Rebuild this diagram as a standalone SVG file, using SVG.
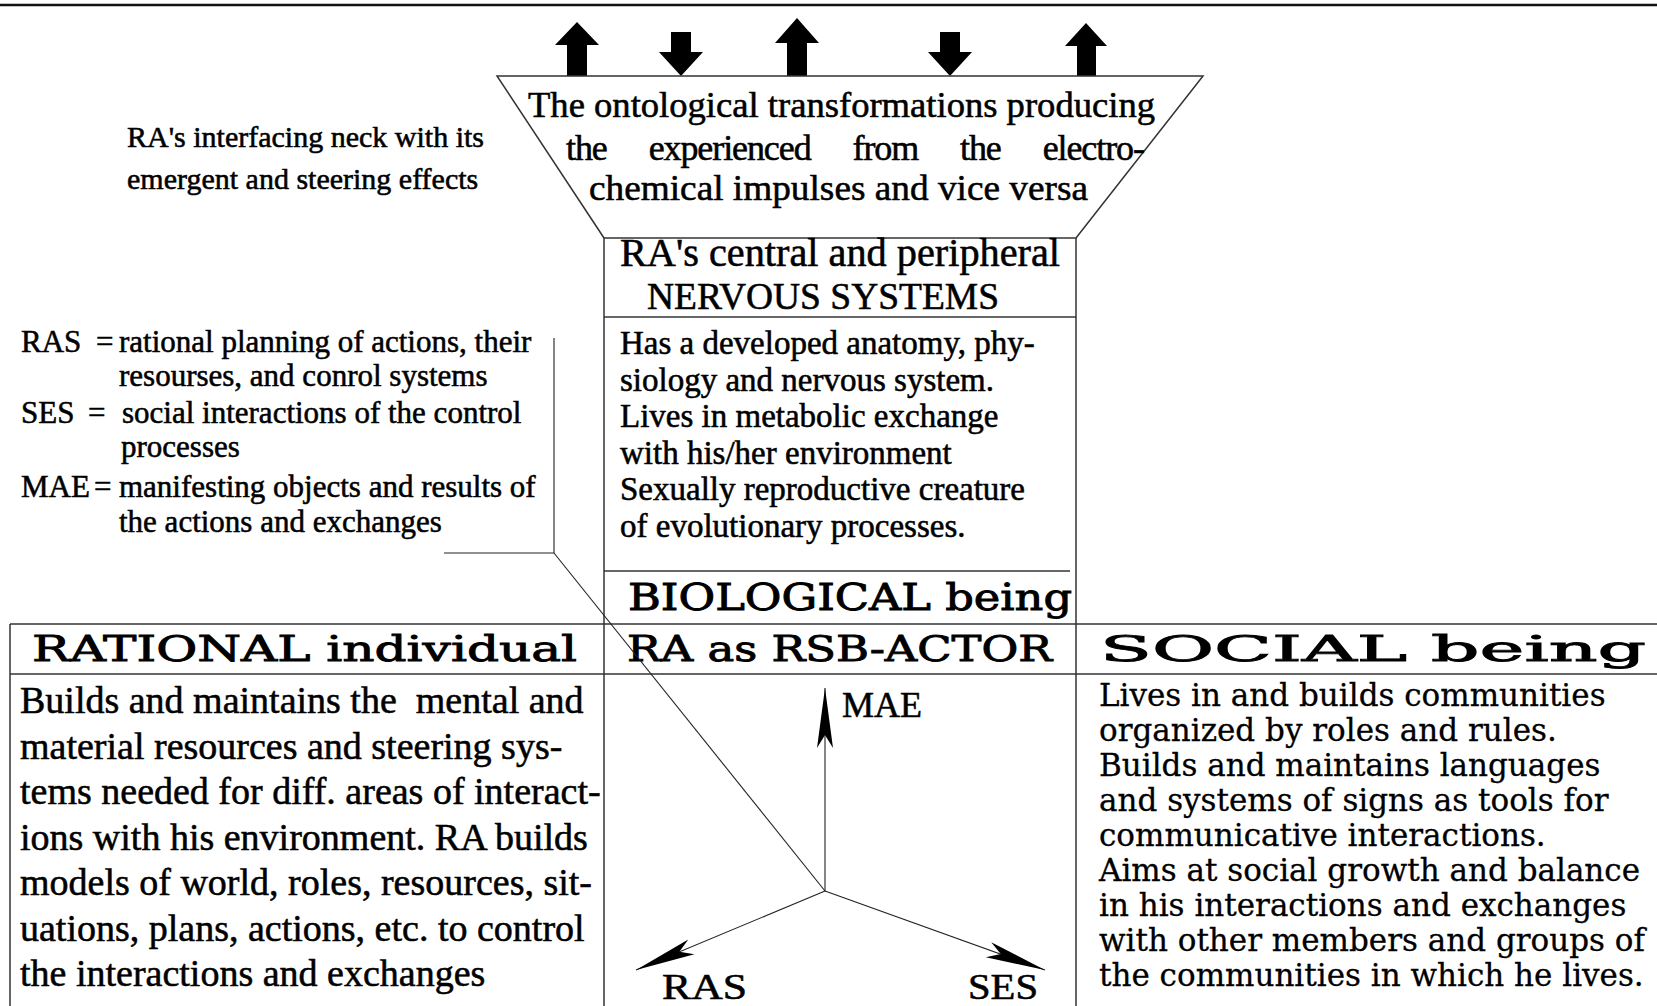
<svg xmlns="http://www.w3.org/2000/svg" width="1657" height="1006" viewBox="0 0 1657 1006">
<style>
  .ln { stroke:#333; stroke-width:1.5; fill:none; }
  .thin { stroke:#222; stroke-width:1.1; fill:none; }
  .tm { font-family:"Liberation Serif","Times New Roman",serif; fill:#000; stroke:#000; stroke-width:0.55; }
  .wd { font-family:"DejaVu Serif","Liberation Serif",serif; fill:#000; stroke:#000; stroke-width:0.3; }
  .hd { font-family:"DejaVu Serif","Liberation Serif",serif; fill:#000; stroke:#000; stroke-width:0.9; }
  .blk { fill:#000; }
</style>
<defs>
  <marker id="dart" viewBox="-62 -11 64 22" refX="0" refY="0" markerWidth="64" markerHeight="22" markerUnits="userSpaceOnUse" orient="auto">
    <path d="M0,0 L-60,-8 L-47,0 L-60,8 Z" fill="#000"/>
  </marker>
</defs>
<rect width="1657" height="1006" fill="#fff"/>
<line x1="0" y1="5" x2="1657" y2="5" stroke="#111" stroke-width="2.5"/>

<g id="impulse-arrows" class="blk">
  <polygon points="567,76 567,45 555,45 577,22 599,45 587,45 587,76"/>
  <polygon points="671,32 691,32 691,52 703,52 681,76 659,52 671,52"/>
  <polygon points="787,76 787,43 775,43 797,18 819,43 807,43 807,76"/>
  <polygon points="940,32 960,32 960,52 972,52 950,76 928,52 940,52"/>
  <polygon points="1077,76 1077,46 1065,46 1086,23 1107,46 1096,46 1096,76"/>
</g>

<g id="funnel">
  <polyline class="ln" points="604,238 497,76 1203,76 1076,238"/>
  <text class="tm" font-size="36" x="528" y="117" textLength="627" lengthAdjust="spacingAndGlyphs">The ontological transformations producing</text>
  <text class="tm" font-size="36" x="566" y="160" textLength="579" lengthAdjust="spacing" word-spacing="34">the experienced from the electro-</text>
  <text class="tm" font-size="36" x="589" y="200" textLength="499" lengthAdjust="spacingAndGlyphs">chemical impulses and vice versa</text>
</g>

<g id="interfacing-note">
  <text class="tm" font-size="30" x="127" y="147">RA's interfacing neck with its</text>
  <text class="tm" font-size="30" x="127" y="189">emergent and steering effects</text>
</g>

<g id="legend" class="tm" font-size="31">
  <text y="352"><tspan x="21">RAS</tspan><tspan x="96">=</tspan><tspan x="119">rational planning of actions, their</tspan></text>
  <text x="119" y="386">resourses, and conrol systems</text>
  <text y="423"><tspan x="21">SES</tspan><tspan x="88">=</tspan><tspan x="122">social interactions of the control</tspan></text>
  <text x="121" y="457">processes</text>
  <text y="497"><tspan x="21">MAE</tspan><tspan x="94">=</tspan><tspan x="119">manifesting objects and results of</tspan></text>
  <text x="119" y="532">the actions and exchanges</text>
</g>

<g id="bio-box">
  <line class="ln" x1="604" y1="238" x2="1076" y2="238"/>
  <line class="ln" x1="604" y1="238" x2="604" y2="1006"/>
  <line class="ln" x1="1076" y1="238" x2="1076" y2="1006"/>
  <line class="ln" x1="604" y1="317" x2="1076" y2="317"/>
  <line class="ln" x1="604" y1="571" x2="1070" y2="571"/>
  <text class="tm" font-size="39" x="620" y="266" textLength="440" lengthAdjust="spacingAndGlyphs">RA's central and peripheral</text>
  <text class="tm" font-size="38" x="647" y="309" textLength="352" lengthAdjust="spacingAndGlyphs">NERVOUS SYSTEMS</text>
  <g class="tm" font-size="33">
    <text x="620" y="354">Has a developed anatomy, phy-</text>
    <text x="620" y="390.5">siology and nervous system.</text>
    <text x="620" y="427">Lives in metabolic exchange</text>
    <text x="620" y="463.5">with his/her environment</text>
    <text x="620" y="500">Sexually reproductive creature</text>
    <text x="620" y="536.5">of evolutionary processes.</text>
  </g>
  <text class="hd" font-size="37" x="628" y="610" textLength="444" lengthAdjust="spacingAndGlyphs">BIOLOGICAL being</text>
</g>

<g id="row-frame">
  <line class="ln" x1="10" y1="624" x2="1657" y2="624"/>
  <line class="ln" x1="10" y1="674" x2="1657" y2="674"/>
  <line class="ln" x1="10" y1="624" x2="10" y2="1006"/>
</g>

<g id="rational-box">
  <text class="hd" font-size="36" x="32" y="661" textLength="545" lengthAdjust="spacingAndGlyphs">RATIONAL individual</text>
  <g class="tm" font-size="38">
    <text x="20" y="713">Builds and maintains the&#160; mental and</text>
    <text x="20" y="758.5">material resources and steering sys-</text>
    <text x="20" y="804">tems needed for diff. areas of interact-</text>
    <text x="20" y="849.5">ions with his environment. RA builds</text>
    <text x="20" y="895">models of world, roles, resources, sit-</text>
    <text x="20" y="940.5">uations, plans, actions, etc. to control</text>
    <text x="20" y="986">the interactions and exchanges</text>
  </g>
</g>

<g id="actor-box">
  <text class="hd" font-size="36" x="627" y="661" textLength="425" lengthAdjust="spacingAndGlyphs">RA as RSB-ACTOR</text>
  <text class="tm" font-size="36" x="842" y="717">MAE</text>
  <text class="tm" font-size="36" x="662" y="999" textLength="85" lengthAdjust="spacingAndGlyphs">RAS</text>
  <text class="tm" font-size="36" x="968" y="999" textLength="70" lengthAdjust="spacingAndGlyphs">SES</text>
</g>

<g id="social-box">
  <text class="hd" font-size="36" x="1100" y="661" textLength="546" lengthAdjust="spacingAndGlyphs">SOCIAL being</text>
  <g class="wd" font-size="31">
    <text x="1099" y="706">Lives in and builds communities</text>
    <text x="1099" y="741">organized by roles and rules.</text>
    <text x="1099" y="776">Builds and maintains languages</text>
    <text x="1099" y="811">and systems of signs as tools for</text>
    <text x="1099" y="846">communicative interactions.</text>
    <text x="1099" y="881">Aims at social growth and balance</text>
    <text x="1099" y="916">in his interactions and exchanges</text>
    <text x="1099" y="951">with other members and groups of</text>
    <text x="1099" y="986">the communities in which he lives.</text>
  </g>
</g>

<g id="connectors">
  <polyline class="thin" points="444,553 554,553 554,338"/>
  <line class="thin" x1="554" y1="553" x2="825" y2="891"/>
  <line class="thin" x1="825" y1="891" x2="825" y2="688" marker-end="url(#dart)"/>
  <line class="thin" x1="825" y1="891" x2="636" y2="970" marker-end="url(#dart)"/>
  <line class="thin" x1="825" y1="891" x2="1045" y2="970" marker-end="url(#dart)"/>
</g>
</svg>
